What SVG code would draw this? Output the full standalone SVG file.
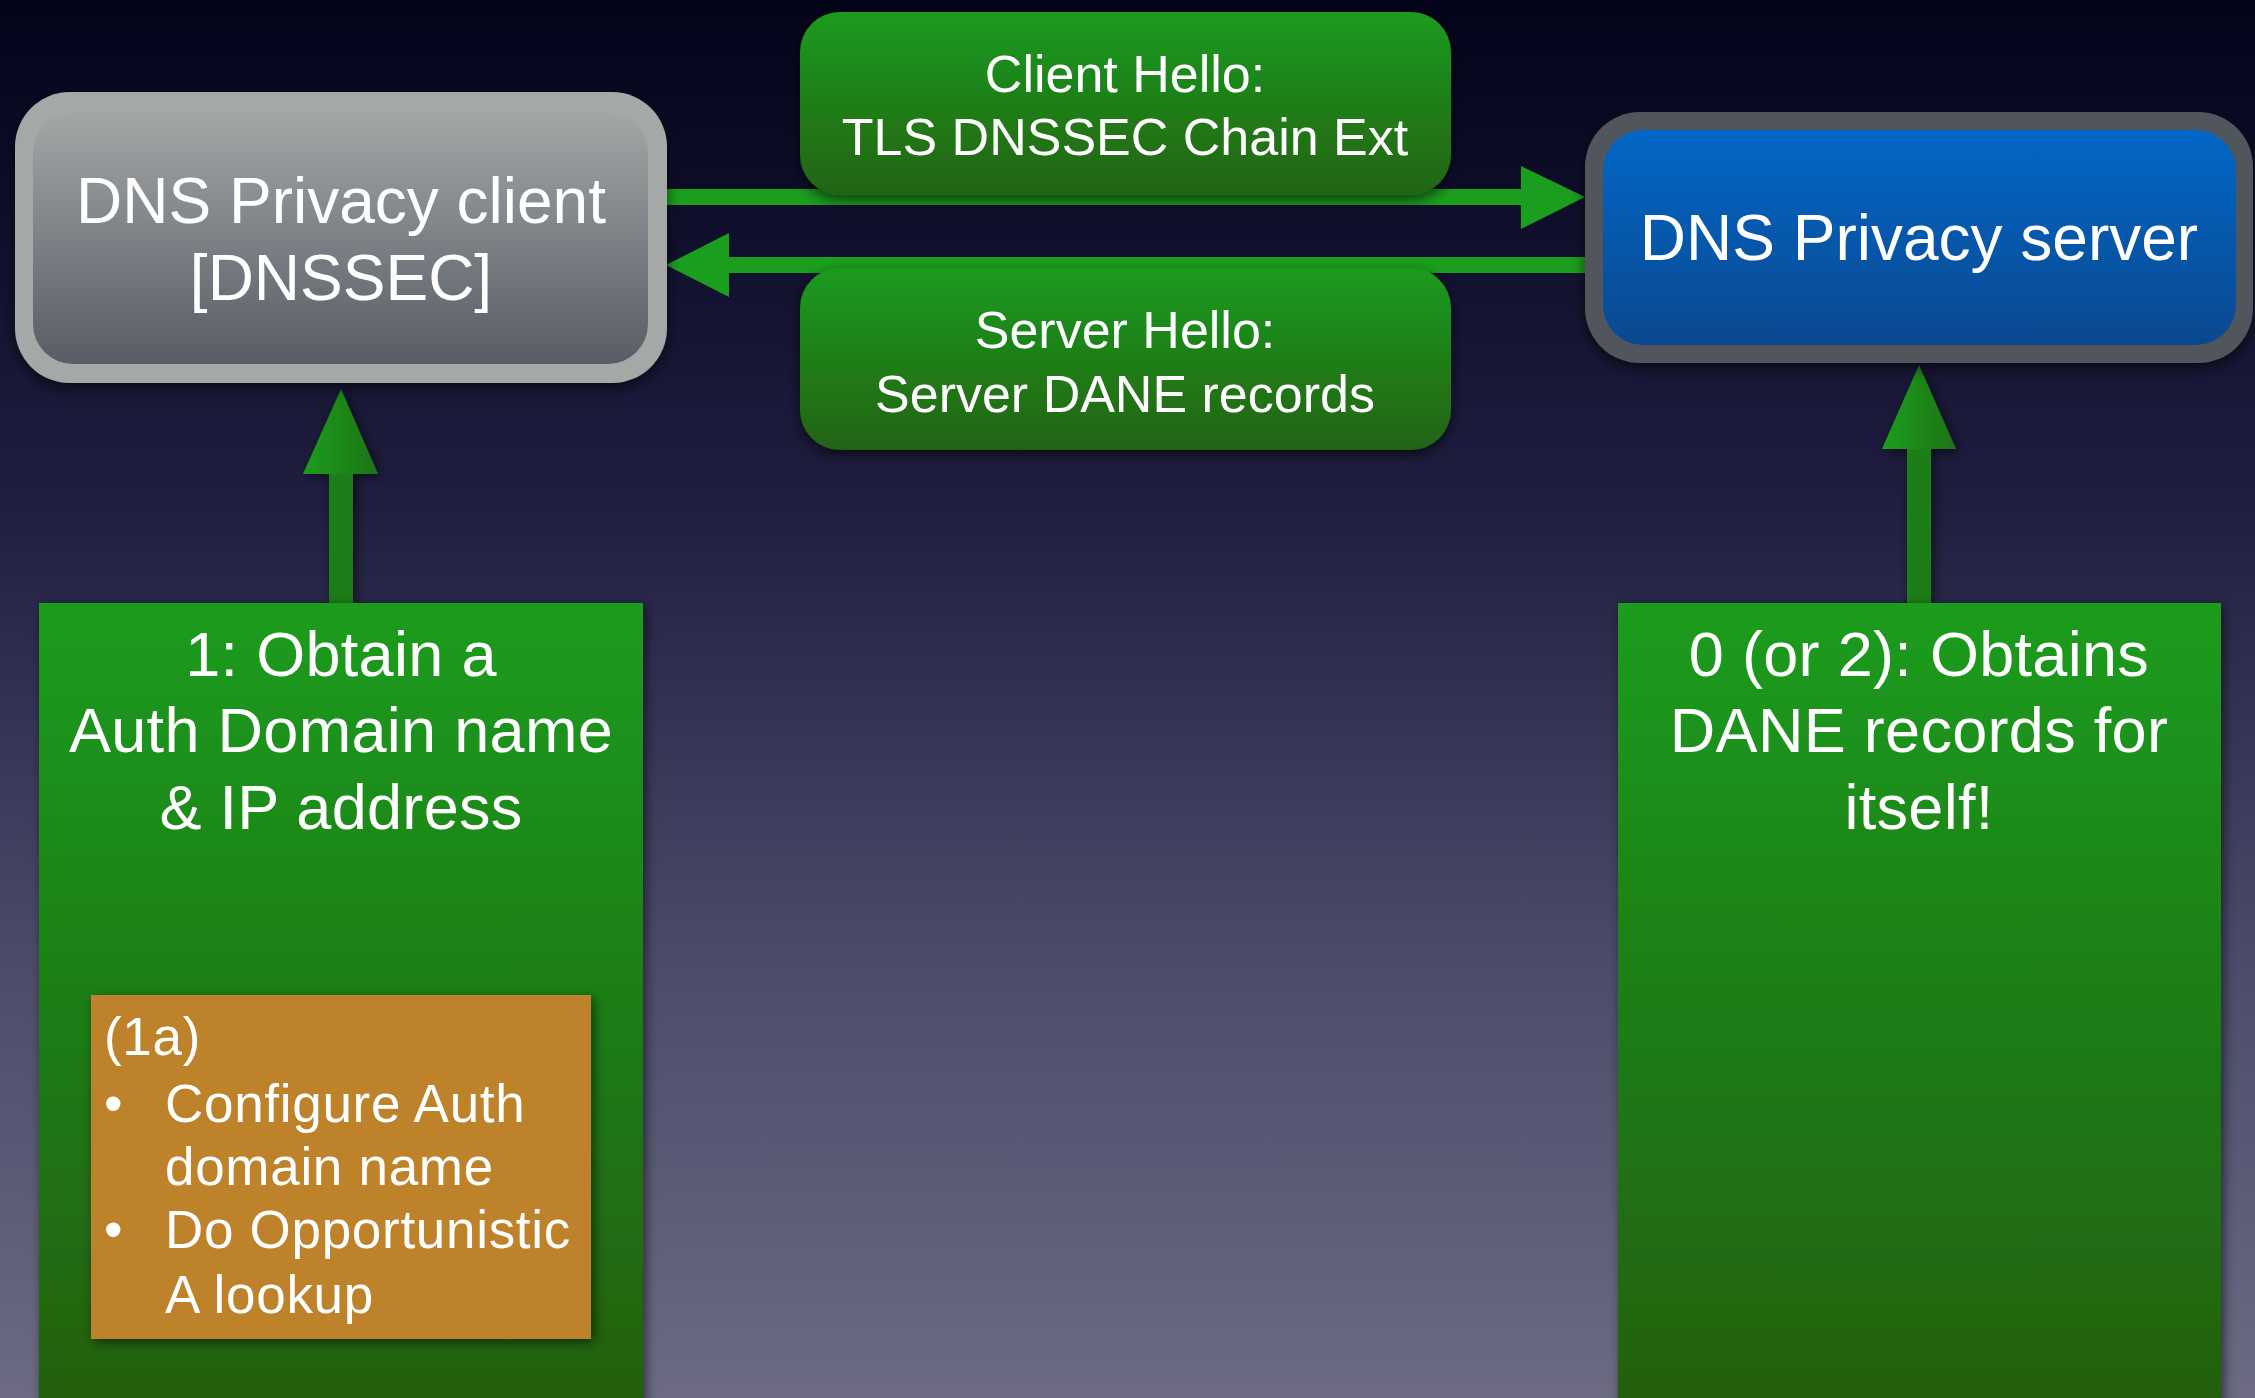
<svg xmlns="http://www.w3.org/2000/svg" width="2255" height="1398" viewBox="0 0 2255 1398">
<defs>
<linearGradient id="bg" x1="0" y1="0" x2="0" y2="1">
<stop offset="0" stop-color="#03031a"/>
<stop offset="0.36" stop-color="#1f1e40"/>
<stop offset="0.68" stop-color="#4b4a69"/>
<stop offset="1" stop-color="#6c6b83"/>
</linearGradient>
<linearGradient id="greenV" x1="0" y1="0" x2="0" y2="1">
<stop offset="0" stop-color="#1b9c1d"/>
<stop offset="1" stop-color="#225e0f"/>
</linearGradient>
<linearGradient id="greenLbl" x1="0" y1="0" x2="0" y2="1">
<stop offset="0" stop-color="#1b9b1d"/>
<stop offset="1" stop-color="#236314"/>
</linearGradient>
<linearGradient id="grayIn" x1="0" y1="0" x2="0" y2="1">
<stop offset="0" stop-color="#a3a7a7"/>
<stop offset="1" stop-color="#575c66"/>
</linearGradient>
<linearGradient id="blueIn" x1="0" y1="0" x2="0" y2="1">
<stop offset="0" stop-color="#0267c6"/>
<stop offset="1" stop-color="#0a4890"/>
</linearGradient>
<linearGradient id="headG" x1="0" y1="0" x2="1" y2="0">
<stop offset="0" stop-color="#1c9d1c"/>
<stop offset="1" stop-color="#1f7316"/>
</linearGradient>
<filter id="sh" x="-10%" y="-10%" width="120%" height="130%">
<feDropShadow dx="0" dy="5" stdDeviation="7" flood-color="#000" flood-opacity="0.6"/>
</filter>
<filter id="sh2" x="-10%" y="-10%" width="130%" height="130%">
<feDropShadow dx="3" dy="3" stdDeviation="6" flood-color="#000" flood-opacity="0.55"/>
</filter>
</defs>
<style>
.t{font-family:"Liberation Sans",Arial,sans-serif;fill:#ffffff;}
.c{text-anchor:middle;}
.big{font-size:64px;}
.lbl{font-size:52px;}
.step{font-size:63px;letter-spacing:0.3px;}
.note{font-size:53px;letter-spacing:0.7px;}
.hline{fill:#1b9e1e;}
.vshaft{fill:#1e7e17;}
</style>
<rect x="0" y="0" width="2255" height="1398" fill="url(#bg)"/>

<g id="connectors">
<rect class="hline" x="660" y="189" width="865" height="16"/>
<polygon class="hline" points="1521,166 1585,197 1521,229"/>
<rect class="hline" x="725" y="257" width="862" height="16"/>
<polygon class="hline" points="729,233 666,265 729,297"/>
<g filter="url(#sh2)">
<rect class="vshaft" x="329" y="472" width="24" height="133"/>
<polygon fill="url(#headG)" points="303,474 341,389 378,474"/>
<rect class="vshaft" x="1907" y="447" width="24" height="158"/>
<polygon fill="url(#headG)" points="1882,449 1919,365 1956,449"/>
</g>
</g>

<g id="client">
<rect x="15" y="92" width="652" height="291" rx="55" fill="#a4a8a7" filter="url(#sh)"/>
<rect x="33" y="112" width="615" height="252" rx="40" fill="url(#grayIn)"/>
<text class="t c big" x="341" y="223">DNS Privacy client</text>
<text class="t c big" x="341" y="300">[DNSSEC]</text>
</g>

<g id="server">
<rect x="1585" y="112" width="668" height="251" rx="55" fill="#51565d" filter="url(#sh)"/>
<rect x="1603" y="130" width="633" height="215" rx="40" fill="url(#blueIn)"/>
<text class="t c big" x="1919" y="260">DNS Privacy server</text>
</g>

<g id="client-hello">
<rect x="800" y="12" width="651" height="183" rx="40" fill="url(#greenLbl)" filter="url(#sh)"/>
<text class="t c lbl" x="1125" y="92">Client Hello:</text>
<text class="t c lbl" x="1125" y="155">TLS DNSSEC Chain Ext</text>
</g>

<g id="server-hello">
<rect x="800" y="268" width="651" height="182" rx="40" fill="url(#greenLbl)" filter="url(#sh)"/>
<text class="t c lbl" x="1125" y="348">Server Hello:</text>
<text class="t c lbl" x="1125" y="412">Server DANE records</text>
</g>

<g id="step1">
<rect x="39" y="603" width="604" height="820" fill="url(#greenV)" filter="url(#sh2)"/>
<text class="t c step" x="341" y="676">1: Obtain a</text>
<text class="t c step" x="341" y="752">Auth Domain name</text>
<text class="t c step" x="341" y="829">&amp; IP address</text>
</g>

<g id="step1a">
<rect x="91" y="995" width="500" height="344" fill="#bd8229" filter="url(#sh2)"/>
<text class="t note" x="104" y="1055">(1a)</text>
<text class="t note" x="104" y="1122">•</text>
<text class="t note" x="165" y="1122">Configure Auth</text>
<text class="t note" x="165" y="1185">domain name</text>
<text class="t note" x="104" y="1248">•</text>
<text class="t note" x="165" y="1248">Do Opportunistic</text>
<text class="t note" x="165" y="1313">A lookup</text>
</g>

<g id="step0">
<rect x="1618" y="603" width="603" height="820" fill="url(#greenV)" filter="url(#sh2)"/>
<text class="t c step" x="1919" y="676">0 (or 2): Obtains</text>
<text class="t c step" x="1919" y="752">DANE records for</text>
<text class="t c step" x="1919" y="829">itself!</text>
</g>
</svg>
